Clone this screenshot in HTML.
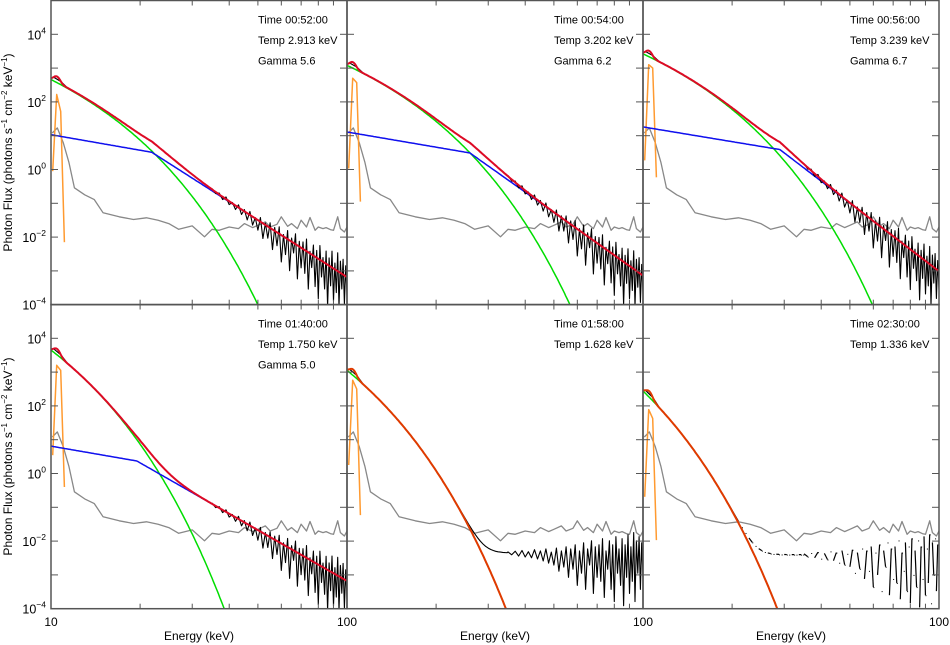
<!DOCTYPE html>
<html><head><meta charset="utf-8"><style>
html,body{margin:0;padding:0;background:#fff;width:950px;height:645px;overflow:hidden;}
svg{display:block;font-family:"Liberation Sans",sans-serif;}
</style></head><body>
<svg id="chart" width="950" height="645" viewBox="0 0 950 645" xmlns="http://www.w3.org/2000/svg"></svg>
<script>
// ---- data (per panel) ----
const times = ["00:52:00","00:54:00","00:56:00","01:40:00","01:58:00","02:30:00"];
const temps = [2.913,3.202,3.239,1.750,1.628,1.336];
const gammas = [5.6,6.2,6.7,5.0,null,null];
const thermLog10 = [2.66,3.08,3.42,3.65,3.05,2.44];      // log flux of thermal at 10 keV
const plStartLog = [1.03,1.11,1.26,0.81,null,null];     // power law log flux at 10 keV
const plBreakE = [21.9,26.0,29.0,19.5,null,null];
const plBreakLog = [0.51,0.49,0.59,0.37,null,null];
const floorLog = [-4,-4,-4,-4,-2.35,-2.4];
const orangeE = [10.13,10.45,10.78,11.1];
const orangeLog = [[-0.05,2.22,1.72,-2.15],[0.03,2.7,2.57,-0.95],[0.27,3.1,3.0,-0.23],[0.54,3.2,3.05,-0.4],[0.25,2.76,2.5,-1.23],[-0.69,1.89,1.63,-1.97]];
const bgE = [10.1,10.5,11,11.5,12,13,14,15,17,19,21,23,25,27,30,33,35,37,40,43,45,48,50,53,55,58,60,63,65,68,70,73,75,78,80,83,85,88,90,93,95,98,100];
const bgLog = [1.08,1.23,0.79,0.2,-0.54,-0.75,-0.89,-1.28,-1.4,-1.48,-1.43,-1.5,-1.6,-1.77,-1.67,-1.99,-1.77,-1.8,-1.7,-1.75,-1.6,-1.72,-1.65,-1.55,-1.7,-1.62,-1.4,-1.68,-1.6,-1.75,-1.5,-1.7,-1.42,-1.8,-1.7,-1.75,-1.72,-1.78,-1.8,-1.4,-1.75,-1.85,-1.7];
const resid = [0.02,-0.05,0.04,-0.08,0.06,-0.1,0.03,-0.12,0.08,-0.15,
0.05,-0.2,0.1,-0.25,0.02,-0.3,0.12,-0.45,0.05,-0.35,
0.15,-0.6,0.1,-0.4,0.2,-0.8,0.05,-0.5,0.25,-0.9,
0.1,-0.3,0.3,-1.0,0.15,-0.6,0.2,-0.7,0.35,-1.1,
0.05,-0.4,0.3,-0.9,0.2,-1.2,0.4,-0.5,0.1,-0.8,
0.35,-1.3,0.2,-0.6,0.45,-1.0,0.15,-0.7,0.5,-1.2,
0.3,-0.5,0.4,-0.9,0.25,-0.6];
const yTickExps = [4,2,0,-2,-4];

// ---- layout ----
const NS="http://www.w3.org/2000/svg";
const svg=document.getElementById('chart');
const PW=296, DEC=33.8;
function px0(c){return 51+c*PW;}
function pyTop(r){return 0.5+r*304;}
function xs(c,E){return px0(c)+(Math.log10(E)-1)*PW;}
function ys(r,lg){const l=Math.max(-4.05,Math.min(5,lg));return pyTop(r)+(5-l)*DEC;}
function mk(tag,attrs,parent){const e=document.createElementNS(NS,tag);for(const k in attrs)e.setAttribute(k,attrs[k]);(parent||svg).appendChild(e);return e;}

function thermal(i,E){const kT=temps[i];return Math.pow(10,thermLog10[i])*Math.exp(-(E-10)/kT)*10/E;}
function fe(i,E){return 0.5*thermal(i,10.45)*Math.exp(-Math.pow((E-10.45)/0.25,2)/2);}
function powerlaw(i,E){
  if(gammas[i]===null)return 0;
  const Eb=plBreakE[i], lb=plBreakLog[i];
  const gl=(plStartLog[i]-lb)/Math.log10(Eb/10);
  const g=E<Eb?gl:gammas[i];
  return Math.pow(10,lb-g*Math.log10(E/Eb));
}
function total(i,E){return thermal(i,E)+fe(i,E)+powerlaw(i,E);}

const grid=[];for(let E=10;E<=100.001;E*=1.01)grid.push(E);

for(let i=0;i<6;i++){
  const c=i%3,r=Math.floor(i/3);
  const g=mk('g',{});
  
  
  const cp=mk('clipPath',{id:'cp'+i},g);
  mk('rect',{x:px0(c),y:pyTop(r),width:PW,height:9*DEC},cp);
  const pg=mk('g',{'clip-path':'url(#cp'+i+')'},g);
  function line(pts,color,w,name){
    const p=mk('polyline',{points:pts.map(q=>q[0].toFixed(1)+','+q[1].toFixed(1)).join(' '),fill:'none',stroke:color,'stroke-width':w,'stroke-linejoin':'round'},pg);
    
    
    return p;
  }
  line(bgE.map((E,k)=>[xs(c,E),ys(r,bgLog[k])]),'#888',1.3,'background-spectrum');
  line(orangeE.map((E,k)=>[xs(c,E),ys(r,orangeLog[i][k])]),'#ff9a30',1.5,'attenuator-spectrum');
  line(grid.map(E=>[xs(c,E),ys(r,Math.log10(thermal(i,E)))]),'#00dd00',1.5,'thermal-model');
  if(gammas[i]!==null)line(grid.map(E=>[xs(c,E),ys(r,Math.log10(powerlaw(i,E)))]),'#1010ee',1.5,'nonthermal-model');
  const dat=[];
  for(let E=10.2;E<35;E+=0.6){dat.push([E,Math.log10(total(i,E)+Math.pow(10,floorLog[i]))]);}
  resid.forEach((d,k)=>{const E=35+k;dat.push([E,Math.log10(total(i,E)+Math.pow(10,floorLog[i]))+d*(i>=4?1.2:1)]);});
  if(i<5){
    line(dat.map(q=>[xs(c,q[0]),ys(r,q[1])]),'#000',1.1,'observed-data');
  } else {
    const split=dat.findIndex(q=>q[0]>=21);
    line(dat.slice(0,split+1).map(q=>[xs(c,q[0]),ys(r,q[1])]),'#000',1.2,'observed-data');
    for(let k=split+1;k<dat.length-1;k++){
      if(k%3===0){const s=mk('line',{x1:xs(c,dat[k][0]),y1:ys(r,dat[k][1]),x2:xs(c,dat[k+1][0]),y2:ys(r,dat[k+1][1]),stroke:'#000','stroke-width':1.2},pg);
        
        }
      else {const d=mk('rect',{x:xs(c,dat[k][0]),y:Math.min(ys(r,dat[k][1]),pyTop(r)+9*DEC-1),width:1,height:1,fill:'#000'},pg);
        
        }
    }
  }
  line(grid.map(E=>[xs(c,E),ys(r,Math.log10(total(i,E)))]),gammas[i]===null?'#e03a00':'#dd0a25',2,'total-model');

  const fr=mk('rect',{x:px0(c),y:pyTop(r),width:PW,height:9*DEC,fill:'none',stroke:'#555','stroke-width':1.5},g);
  
  
  for(let e=-3;e<=4;e++){
    const y=ys(r,e);
    mk('line',{x1:px0(c),y1:y,x2:px0(c)+7,y2:y,stroke:'#555','stroke-width':1},g);
    mk('line',{x1:px0(c)+PW-7,y1:y,x2:px0(c)+PW,y2:y,stroke:'#555','stroke-width':1},g);
  }
  for(let E=20;E<=90;E+=10){
    const x=xs(c,E);
    mk('line',{x1:x,y1:pyTop(r),x2:x,y2:pyTop(r)+5,stroke:'#555','stroke-width':1},g);
    mk('line',{x1:x,y1:pyTop(r)+9*DEC-5,x2:x,y2:pyTop(r)+9*DEC,stroke:'#555','stroke-width':1},g);
  }
  const tx=px0(c)+207, ty=pyTop(r)+23;
  const lines=['Time '+times[i],'Temp '+temps[i].toFixed(3)+' keV'];
  if(gammas[i]!==null)lines.push('Gamma '+gammas[i].toFixed(1));
  lines.forEach((s,k)=>{const t=mk('text',{x:tx,y:ty+k*20.5,'font-size':11,fill:'#000','xml:space':'preserve'},g);t.textContent=s.replace(' ','  ');
    
    });
  if(r===1){
    if(c===0){const t=mk('text',{x:xs(c,10),y:626,'font-size':12,'text-anchor':'middle'},g);t.textContent='10';
      }
    const t=mk('text',{x:xs(c,100),y:626,'font-size':12,'text-anchor':'middle'},g);t.textContent='100';
    
    const xt=mk('text',{x:px0(c)+PW/2,y:640,'font-size':12,'text-anchor':'middle','xml:space':'preserve'},g);xt.textContent='Energy  (keV)';
    
  }
  if(c===0){
    yTickExps.forEach(e=>{
      const t=mk('text',{x:46,y:ys(r,e)+5,'font-size':12.5,'text-anchor':'end'},g);
      const a=mk('tspan',{},t);a.textContent='10';
      const b=mk('tspan',{dy:-6,'font-size':8.5},t);b.textContent=(e<0?'\u2212':'')+Math.abs(e);
      
    });
    const yt=mk('text',{x:0,y:0,'font-size':12,'text-anchor':'middle',transform:'translate(12,'+(pyTop(r)+152)+') rotate(-90)','xml:space':'preserve'},g);
    
    const parts=[['Photon  Flux  (photons  s',0],['\u22121',1],['  cm',0],['\u22122',1],['  keV',0],['\u22121',1],[')',0]];
    parts.forEach((p,k)=>{const s=mk('tspan',{},yt);
      if(p[1]){s.setAttribute('dy',-5);s.setAttribute('font-size',8);}
      else{s.setAttribute('dy',k>0?5:0);}
      s.textContent=p[0];});
  }
}
</script>
</body></html>
